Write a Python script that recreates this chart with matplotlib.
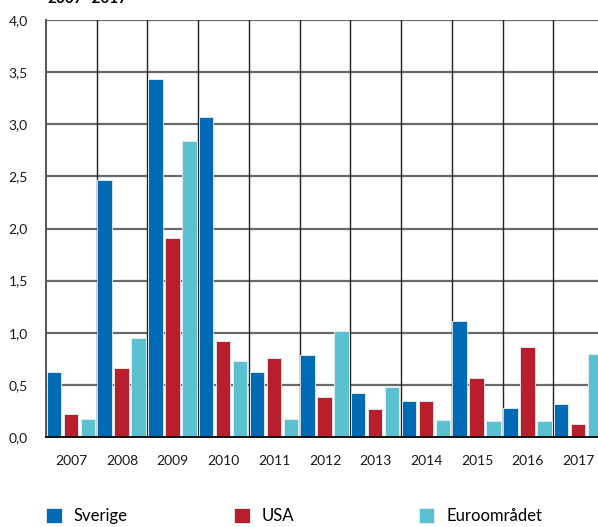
import numpy as np
import matplotlib
matplotlib.use('Agg')
import matplotlib.pyplot as plt

plt.rcParams['font.family'] = ['Lato', 'DejaVu Sans']

years = ['2007', '2008', '2009', '2010', '2011', '2012', '2013', '2014', '2015', '2016', '2017']
sverige = [0.62, 2.47, 3.43, 3.07, 0.62, 0.79, 0.42, 0.35, 1.11, 0.28, 0.32]
usa = [0.22, 0.66, 1.91, 0.92, 0.76, 0.38, 0.27, 0.35, 0.57, 0.86, 0.12]
euro = [0.17, 0.95, 2.84, 0.73, 0.17, 1.02, 0.48, 0.16, 0.15, 0.15, 0.80]

series = [('Sverige', sverige, '#006bb4'),
          ('USA', usa, '#b91e2d'),
          ('Euroområdet', euro, '#5bc1d0')]

fig = plt.figure(figsize=(5.98, 5.27), dpi=100)
ax = fig.add_axes([46 / 598, 1 - 437 / 527, 558 / 598, 417 / 527])

x = np.arange(len(years))
offsets = [0.155, 0.49, 0.825]
width = 0.285
bars = []
for (name, vals, col), off in zip(series, offsets):
    b = ax.bar(x + off, vals, width, color=col, edgecolor='#e8f0f6',
               linewidth=0.6, zorder=3, label=name)
    bars.append(b)

ax.set_xlim(0, len(years))
ax.set_ylim(0, 4.0)
ax.set_yticks(np.arange(0, 4.01, 0.5))
ax.set_yticklabels([f'{v:.1f}'.replace('.', ',') for v in np.arange(0, 4.01, 0.5)])
ax.set_xticks(x + 0.5)
ax.set_xticklabels(years)
ax.tick_params(length=0, labelsize=10, colors='#1a1a1a')
ax.tick_params(axis='y', pad=13)
ax.tick_params(axis='x', pad=13)

# gridlines: grey horizontals, dark verticals between years
for v in np.arange(0.5, 4.01, 0.5):
    ax.axhline(v, color='#6a6a6a', lw=1.6, zorder=1)
for v in range(1, len(years)):
    ax.axvline(v, color='#222222', lw=1.0, zorder=1)

for s in ['top', 'right']:
    ax.spines[s].set_visible(False)
ax.spines['left'].set_color('#555555')
ax.spines['left'].set_linewidth(1.4)
ax.spines['bottom'].set_color('#111111')
ax.spines['bottom'].set_linewidth(1.4)
ax.spines['bottom'].set_zorder(4)

fig.text(47 / 598, 1 - 3 / 527, '2007\u20132017', fontsize=11, fontweight='bold',
         va='baseline', ha='left')

# legend entries at fixed positions along the bottom
for b, xpos in zip(bars, [34, 222, 407]):
    fig.legend(handles=[b], loc='lower left', bbox_to_anchor=(xpos / 598, -0.017),
               frameon=False, fontsize=12, handlelength=0.95, handleheight=0.95,
               handletextpad=0.75, borderpad=0.2)

fig.savefig('out.png', dpi=100)
